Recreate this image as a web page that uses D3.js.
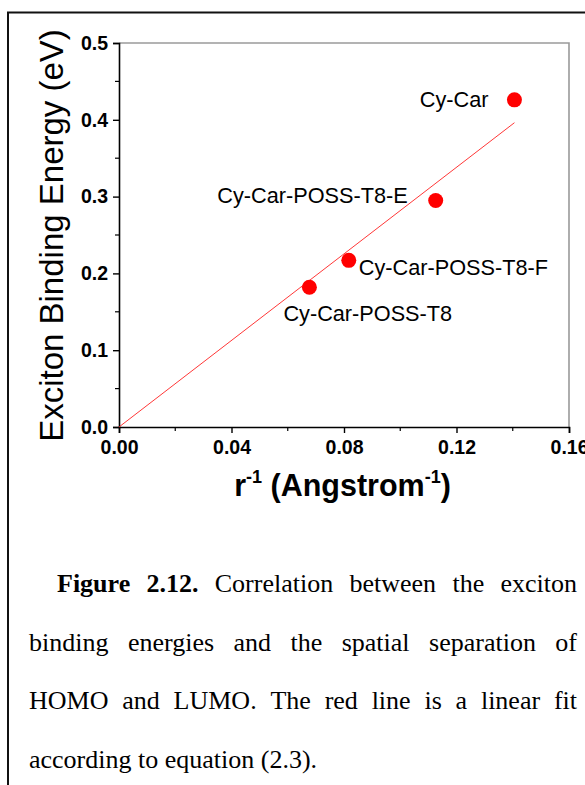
<!DOCTYPE html>
<html>
<head>
<meta charset="utf-8">
<script src="https://cdn.jsdelivr.net/npm/d3@7"></script>
<style>
  html, body { margin: 0; padding: 0; background: #fff; }
  svg { display: block; }
</style>
</head>
<body>
<svg id="fig" width="585" height="785"></svg>
<script>
// Compounds and their measured values
const compounds = ["Cy-Car", "Cy-Car-POSS-T8-E", "Cy-Car-POSS-T8-F", "Cy-Car-POSS-T8"];
const inverseSeparation = [0.1406, 0.1126, 0.0817, 0.0677];   // r^-1 (Å^-1)
const bindingEnergy = [0.426, 0.295, 0.217, 0.182];            // eV

const xTicks = [0.00, 0.04, 0.08, 0.12, 0.16];
const xTickLabels = ["0.00", "0.04", "0.08", "0.12", "0.16"];
const yTicks = [0.0, 0.1, 0.2, 0.3, 0.4, 0.5];
const yTickLabels = ["0.0", "0.1", "0.2", "0.3", "0.4", "0.5"];

const captionLines = [
  [{ t: "Figure", b: true }, { t: "2.12.", b: true }, { t: "Correlation" }, { t: "between" }, { t: "the" }, { t: "exciton" }],
  [{ t: "binding" }, { t: "energies" }, { t: "and" }, { t: "the" }, { t: "spatial" }, { t: "separation" }, { t: "of" }],
  [{ t: "HOMO" }, { t: "and" }, { t: "LUMO." }, { t: "The" }, { t: "red" }, { t: "line" }, { t: "is" }, { t: "a" }, { t: "linear" }, { t: "fit" }],
  [{ t: "according" }, { t: "to" }, { t: "equation" }, { t: "(2.3)." }]
];

const svg = d3.select("#fig");
const sans = "'Liberation Sans', Arial, Helvetica, sans-serif";
const serif = "'Liberation Serif', 'Times New Roman', Times, serif";

// page frame (top and left rules)
svg.append("line").attr("x1", 7).attr("x2", 585).attr("y1", 12.5).attr("y2", 12.5)
  .attr("stroke", "#111").attr("stroke-width", 2);
svg.append("line").attr("x1", 8).attr("x2", 8).attr("y1", 12).attr("y2", 785)
  .attr("stroke", "#111").attr("stroke-width", 2);

// plot area
const L = 119, R = 569, T = 43, B = 427;
const x = d3.scaleLinear().domain([0, 0.16]).range([L, R]);
const y = d3.scaleLinear().domain([0, 0.5]).range([B, T]);

// top / right frame of the plot box
svg.append("path")
  .attr("d", `M${L},${T}H${R}V${B}`)
  .attr("fill", "none").attr("stroke", "#9a9a9a").attr("stroke-width", 1.6);

// minor ticks
const xMinor = d3.range(0.02, 0.16, 0.04);
const yMinor = d3.range(0.05, 0.5, 0.1);
svg.append("g").selectAll("line").data(xMinor).join("line")
  .attr("x1", d => x(d)).attr("x2", d => x(d)).attr("y1", B).attr("y2", B + 4)
  .attr("stroke", "#000").attr("stroke-width", 1.2);
svg.append("g").selectAll("line").data(yMinor).join("line")
  .attr("y1", d => y(d)).attr("y2", d => y(d)).attr("x1", L).attr("x2", L - 4)
  .attr("stroke", "#000").attr("stroke-width", 1.2);

// axes
const xAxis = d3.axisBottom(x).tickValues(xTicks).tickSize(6).tickPadding(6)
  .tickFormat((d, i) => xTickLabels[i]);
const yAxis = d3.axisLeft(y).tickValues(yTicks).tickSize(6).tickPadding(5)
  .tickFormat((d, i) => yTickLabels[i]);

const gx = svg.append("g").attr("transform", `translate(0,${B})`).call(xAxis);
const gy = svg.append("g").attr("transform", `translate(${L},0)`).call(yAxis);
[gx, gy].forEach(g => {
  g.select(".domain").attr("stroke", "#000").attr("stroke-width", 1.6);
  g.selectAll(".tick line").attr("stroke", "#000").attr("stroke-width", 1.4);
  g.selectAll(".tick text").attr("fill", "#000")
    .style("font-family", sans).style("font-weight", "bold").style("font-size", "19.5px");
});
gx.selectAll(".tick text").attr("y", 13).attr("dy", "0.71em");
gy.selectAll(".tick text").attr("x", -11);

// linear fit through the origin
const sxy = d3.sum(inverseSeparation, (v, i) => v * bindingEnergy[i]);
const sxx = d3.sum(inverseSeparation, v => v * v);
const slope = sxy / sxx;
const xFitEnd = d3.max(inverseSeparation);
svg.append("line")
  .attr("x1", x(0)).attr("y1", y(0))
  .attr("x2", x(xFitEnd)).attr("y2", y(slope * xFitEnd))
  .attr("stroke", "#ff2020").attr("stroke-width", 0.9);

// data points
const points = compounds.map((c, i) => ({ name: c, xv: inverseSeparation[i], yv: bindingEnergy[i] }));
svg.append("g").selectAll("circle").data(points).join("circle")
  .attr("cx", d => x(d.xv)).attr("cy", d => y(d.yv)).attr("r", 7.5)
  .attr("fill", "#ff0000");

// point labels
const labelPlacement = {
  "Cy-Car": { dx: -26, dy: 7, anchor: "end" },
  "Cy-Car-POSS-T8-E": { dx: -28, dy: 3, anchor: "end" },
  "Cy-Car-POSS-T8-F": { dx: 10, dy: 15, anchor: "start" },
  "Cy-Car-POSS-T8": { dx: -26, dy: 34, anchor: "start" }
};
svg.append("g").selectAll("text").data(points).join("text")
  .attr("x", d => x(d.xv) + labelPlacement[d.name].dx)
  .attr("y", d => y(d.yv) + labelPlacement[d.name].dy)
  .attr("text-anchor", d => labelPlacement[d.name].anchor)
  .style("font-family", sans).style("font-size", "21.7px")
  .attr("fill", "#000")
  .text(d => d.name);

// y-axis title
svg.append("text")
  .attr("transform", "translate(63,235.5) rotate(-90)")
  .attr("text-anchor", "middle")
  .style("font-family", sans).style("font-size", "33px").attr("fill", "#000")
  .text("Exciton Binding Energy (eV)");

// x-axis title with superscripts
const xt = svg.append("text")
  .attr("x", 342.5).attr("y", 496).attr("text-anchor", "middle")
  .style("font-family", sans).style("font-size", "30.5px").style("font-weight", "bold")
  .attr("fill", "#000");
xt.append("tspan").text("r");
xt.append("tspan").attr("dy", -13).style("font-size", "18px").text("-1");
xt.append("tspan").attr("dy", 13).text(" (Angstrom");
xt.append("tspan").attr("dy", -13).style("font-size", "18px").text("-1");
xt.append("tspan").attr("dy", 13).text(")");

// caption, justified between the margins
const capLeft = 29, capRight = 577, capIndent = 57;
const baselines = [592, 650.5, 709, 767.5];
captionLines.forEach((words, li) => {
  const left = li === 0 ? capIndent : capLeft;
  const last = li === captionLines.length - 1;
  const g = svg.append("g");
  const nodes = words.map(w => g.append("text")
    .attr("y", baselines[li])
    .style("font-family", serif).style("font-size", "26px")
    .style("font-weight", w.b ? "bold" : "normal")
    .attr("fill", "#000").text(w.t));
  const widths = nodes.map(n => n.node().getComputedTextLength());
  const total = d3.sum(widths);
  const gap = last ? 6.5 : (capRight - left - total) / (words.length - 1);
  let cx = left;
  nodes.forEach((n, i) => { n.attr("x", cx); cx += widths[i] + gap; });
});
</script>
</body>
</html>
